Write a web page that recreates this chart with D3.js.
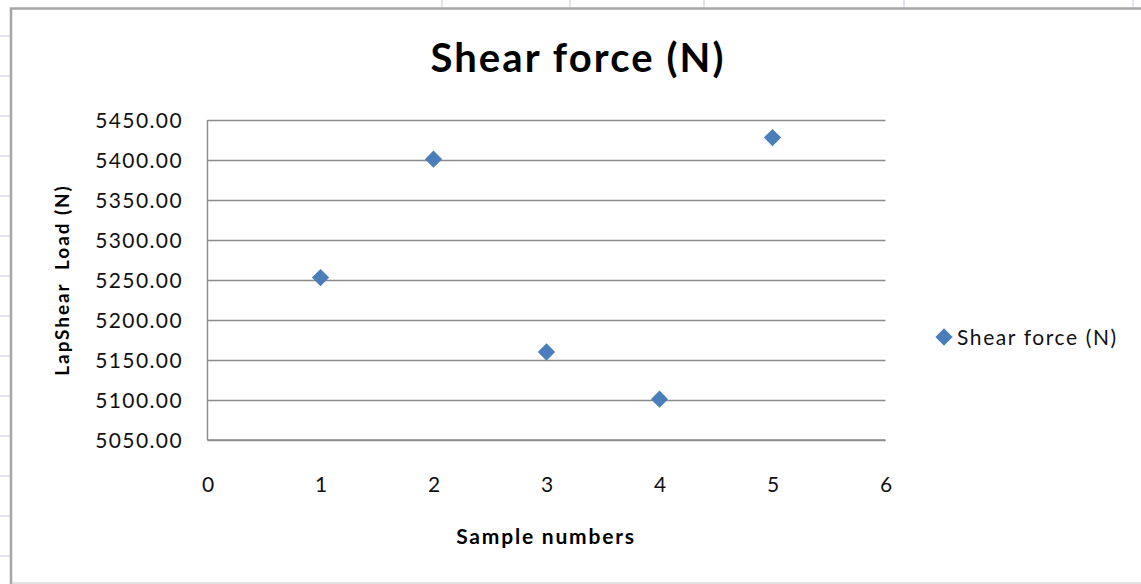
<!DOCTYPE html>
<html>
<head>
<meta charset="utf-8">
<script src="https://cdn.jsdelivr.net/npm/d3@7"></script>
<style>
  html, body { margin: 0; padding: 0; background: #fff; }
  svg text { font-family: Lato, "Open Sans", sans-serif; fill: #000; }
</style>
</head>
<body>
<svg id="chart" width="1141" height="584"></svg>
<script>
// data
var samples = [1, 2, 3, 4, 5];
var shearForce = [5253, 5401, 5160, 5101, 5428];
var xTicks = [0, 1, 2, 3, 4, 5, 6];
var yTicks = [5050, 5100, 5150, 5200, 5250, 5300, 5350, 5400, 5450];
var seriesName = "Shear force (N)";

var svg = d3.select("#chart");

// spreadsheet grid peeking out round the chart
var sheetCols = [442, 570, 704, 904, 1133];
var sheetRows = [36, 76, 116, 156, 196, 236, 276, 316, 356, 396, 436, 476, 516, 556];
svg.selectAll(".scol").data(sheetCols).enter().append("line")
    .attr("x1", d => d).attr("x2", d => d).attr("y1", 0).attr("y2", 8)
    .attr("stroke", "#dadce8").attr("stroke-width", 1.5);
svg.selectAll(".srow").data(sheetRows).enter().append("line")
    .attr("x1", 0).attr("x2", 10).attr("y1", d => d).attr("y2", d => d)
    .attr("stroke", "#dadce8").attr("stroke-width", 1.5);

// chart frame
svg.append("path")
    .attr("d", "M11,584 L11,8.5 L1141,8.5")
    .attr("fill", "none").attr("stroke", "#a6a6a6").attr("stroke-width", 2.5);
svg.append("line")
    .attr("x1", 12).attr("x2", 1141).attr("y1", 583).attr("y2", 583)
    .attr("stroke", "#d9d9d9").attr("stroke-width", 1.5);

var x = d3.scaleLinear().domain([0, 6]).range([207.5, 885.5]);
var y = d3.scaleLinear().domain([5050, 5450]).range([440, 120]);

// horizontal gridlines
svg.append("g")
    .attr("transform", "translate(207.5,0)")
    .call(d3.axisLeft(y).tickValues(yTicks).tickSize(-678).tickFormat(""))
    .call(g => g.select(".domain").remove())
    .call(g => g.selectAll(".tick line").attr("stroke", "#8c8c8c").attr("stroke-width", 1.4));

// axes lines
svg.append("line")
    .attr("x1", 207.5).attr("x2", 207.5).attr("y1", 120).attr("y2", 440)
    .attr("stroke", "#8c8c8c").attr("stroke-width", 1.4);
svg.append("line")
    .attr("x1", 207.5).attr("x2", 885.5).attr("y1", 440).attr("y2", 440)
    .attr("stroke", "#8c8c8c").attr("stroke-width", 1.4);

// y tick labels
svg.append("g")
    .attr("transform", "translate(183,0)")
    .call(d3.axisLeft(y).tickValues(yTicks).tickSize(0).tickFormat(d3.format(".2f")))
    .call(g => g.select(".domain").remove())
    .call(g => g.selectAll("text")
        .attr("x", 0).attr("dy", "0.36em")
        .style("font-size", "21px").style("letter-spacing", "1.4px")
        .style("font-family", "Lato, sans-serif").style("fill", "#111"));

// x tick labels
svg.append("g")
    .attr("transform", "translate(0,484)")
    .call(d3.axisBottom(x).tickValues(xTicks).tickSize(0).tickFormat(d3.format("d")))
    .call(g => g.select(".domain").remove())
    .call(g => g.selectAll("text")
        .attr("y", 0).attr("dy", "0.36em")
        .style("font-size", "21px")
        .style("font-family", "Lato, sans-serif").style("fill", "#111"));

// points
var diamond = d3.symbol().type(d3.symbolDiamond2).size(190);
svg.selectAll(".pt").data(samples).enter().append("path")
    .attr("d", diamond)
    .attr("transform", (d, i) => "translate(" + x(d) + "," + y(shearForce[i]) + ")")
    .attr("fill", "#4a7ebb");

// title
svg.append("text")
    .attr("x", 578).attr("y", 72)
    .attr("text-anchor", "middle")
    .style("font-size", "40px").style("font-weight", "bold").style("letter-spacing", "2.1px")
    .text(seriesName);

// axis titles
svg.append("text")
    .attr("x", 546).attr("y", 536).attr("dy", "0.36em")
    .attr("text-anchor", "middle")
    .style("font-size", "21px").style("font-weight", "bold").style("letter-spacing", "1.8px")
    .text("Sample numbers");
svg.append("text")
    .attr("transform", "translate(62,280) rotate(-90)")
    .attr("dy", "0.36em")
    .attr("text-anchor", "middle")
    .style("font-size", "19px").style("font-weight", "bold").style("letter-spacing", "1.9px")
    .style("white-space", "pre")
    .text("LapShear  Load (N)");

// legend
svg.append("path")
    .attr("d", diamond)
    .attr("transform", "translate(944,337)")
    .attr("fill", "#4a7ebb");
svg.append("text")
    .attr("x", 957).attr("y", 337).attr("dy", "0.36em")
    .style("font-size", "21px").style("letter-spacing", "1.6px").style("fill", "#111")
    .text(seriesName);
</script>
</body>
</html>
